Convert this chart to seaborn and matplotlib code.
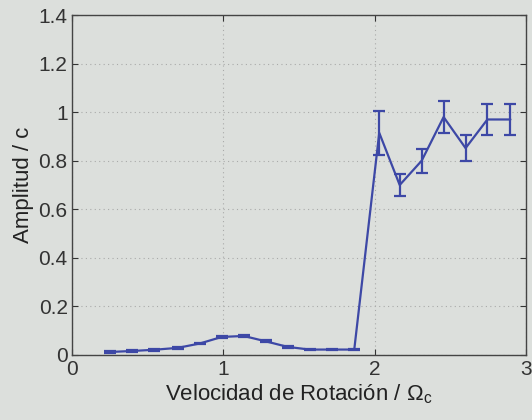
import matplotlib
matplotlib.use("Agg")
import matplotlib.pyplot as plt
import seaborn as sns
import pandas as pd

velocidad = [0.25, 0.395, 0.54, 0.70, 0.845, 0.99, 1.135, 1.28, 1.425, 1.57, 1.72, 1.865,
             2.03, 2.165, 2.31, 2.455, 2.60, 2.744, 2.896]
amplitud = [0.012, 0.016, 0.021, 0.029, 0.047, 0.074, 0.078, 0.056, 0.033, 0.022, 0.022, 0.022,
            0.915, 0.70, 0.80, 0.98, 0.852, 0.97, 0.97]
error = [0.003, 0.003, 0.003, 0.003, 0.004, 0.005, 0.005, 0.004, 0.003, 0.003, 0.003, 0.003,
         0.09, 0.045, 0.05, 0.065, 0.055, 0.065, 0.065]
xticks = [0, 1, 2, 3]
yticks = [0, 0.2, 0.4, 0.6, 0.8, 1, 1.2, 1.4]
ytick_labels = ["0", "0.2", "0.4", "0.6", "0.8", "1", "1.2", "1.4"]

df = pd.DataFrame({"x": velocidad, "y": amplitud, "e": error})

sns.set_style("ticks")
plt.rcParams["font.family"] = ["Liberation Sans", "DejaVu Sans"]
plt.rcParams["mathtext.fontset"] = "custom"
plt.rcParams["mathtext.rm"] = "Liberation Sans"
plt.rcParams["mathtext.it"] = "Liberation Sans"

bg = "#dcdfdc"
line_c = "#3d48a6"
fig = plt.figure(figsize=(5.32, 4.2), dpi=100, facecolor=bg)
ax = fig.add_axes([0.135, 0.155, 0.854, 0.809])
ax.set_facecolor(bg)

sns.lineplot(data=df, x="x", y="y", ax=ax, color=line_c, linewidth=1.6, sort=False)
ax.errorbar(df["x"], df["y"], yerr=df["e"], fmt="none", ecolor=line_c,
            elinewidth=1.6, capsize=4, capthick=1.6)

ax.set_xlim(0, 3)
ax.set_ylim(0, 1.4)
ax.set_xticks(xticks)
ax.set_yticks(yticks)
ax.set_yticklabels(ytick_labels)
ax.grid(True, color="#a9aaa9", linestyle=(0, (1, 3)), linewidth=0.8)
ax.tick_params(direction="in", length=4, labelsize=15, colors="#333333",
               top=True, right=True)
ax.tick_params(axis="x", pad=4)
ax.tick_params(axis="y", pad=3)
for s in ax.spines.values():
    s.set_color("#444444")
    s.set_linewidth(1.0)
ax.set_xlabel(r"Velocidad de Rotación / $\Omega_\mathregular{c}$", fontsize=16,
              color="#222222", labelpad=2)
ax.set_ylabel("Amplitud / c", fontsize=16, color="#222222", labelpad=3)

fig.savefig("out.png", dpi=100, facecolor=bg)
